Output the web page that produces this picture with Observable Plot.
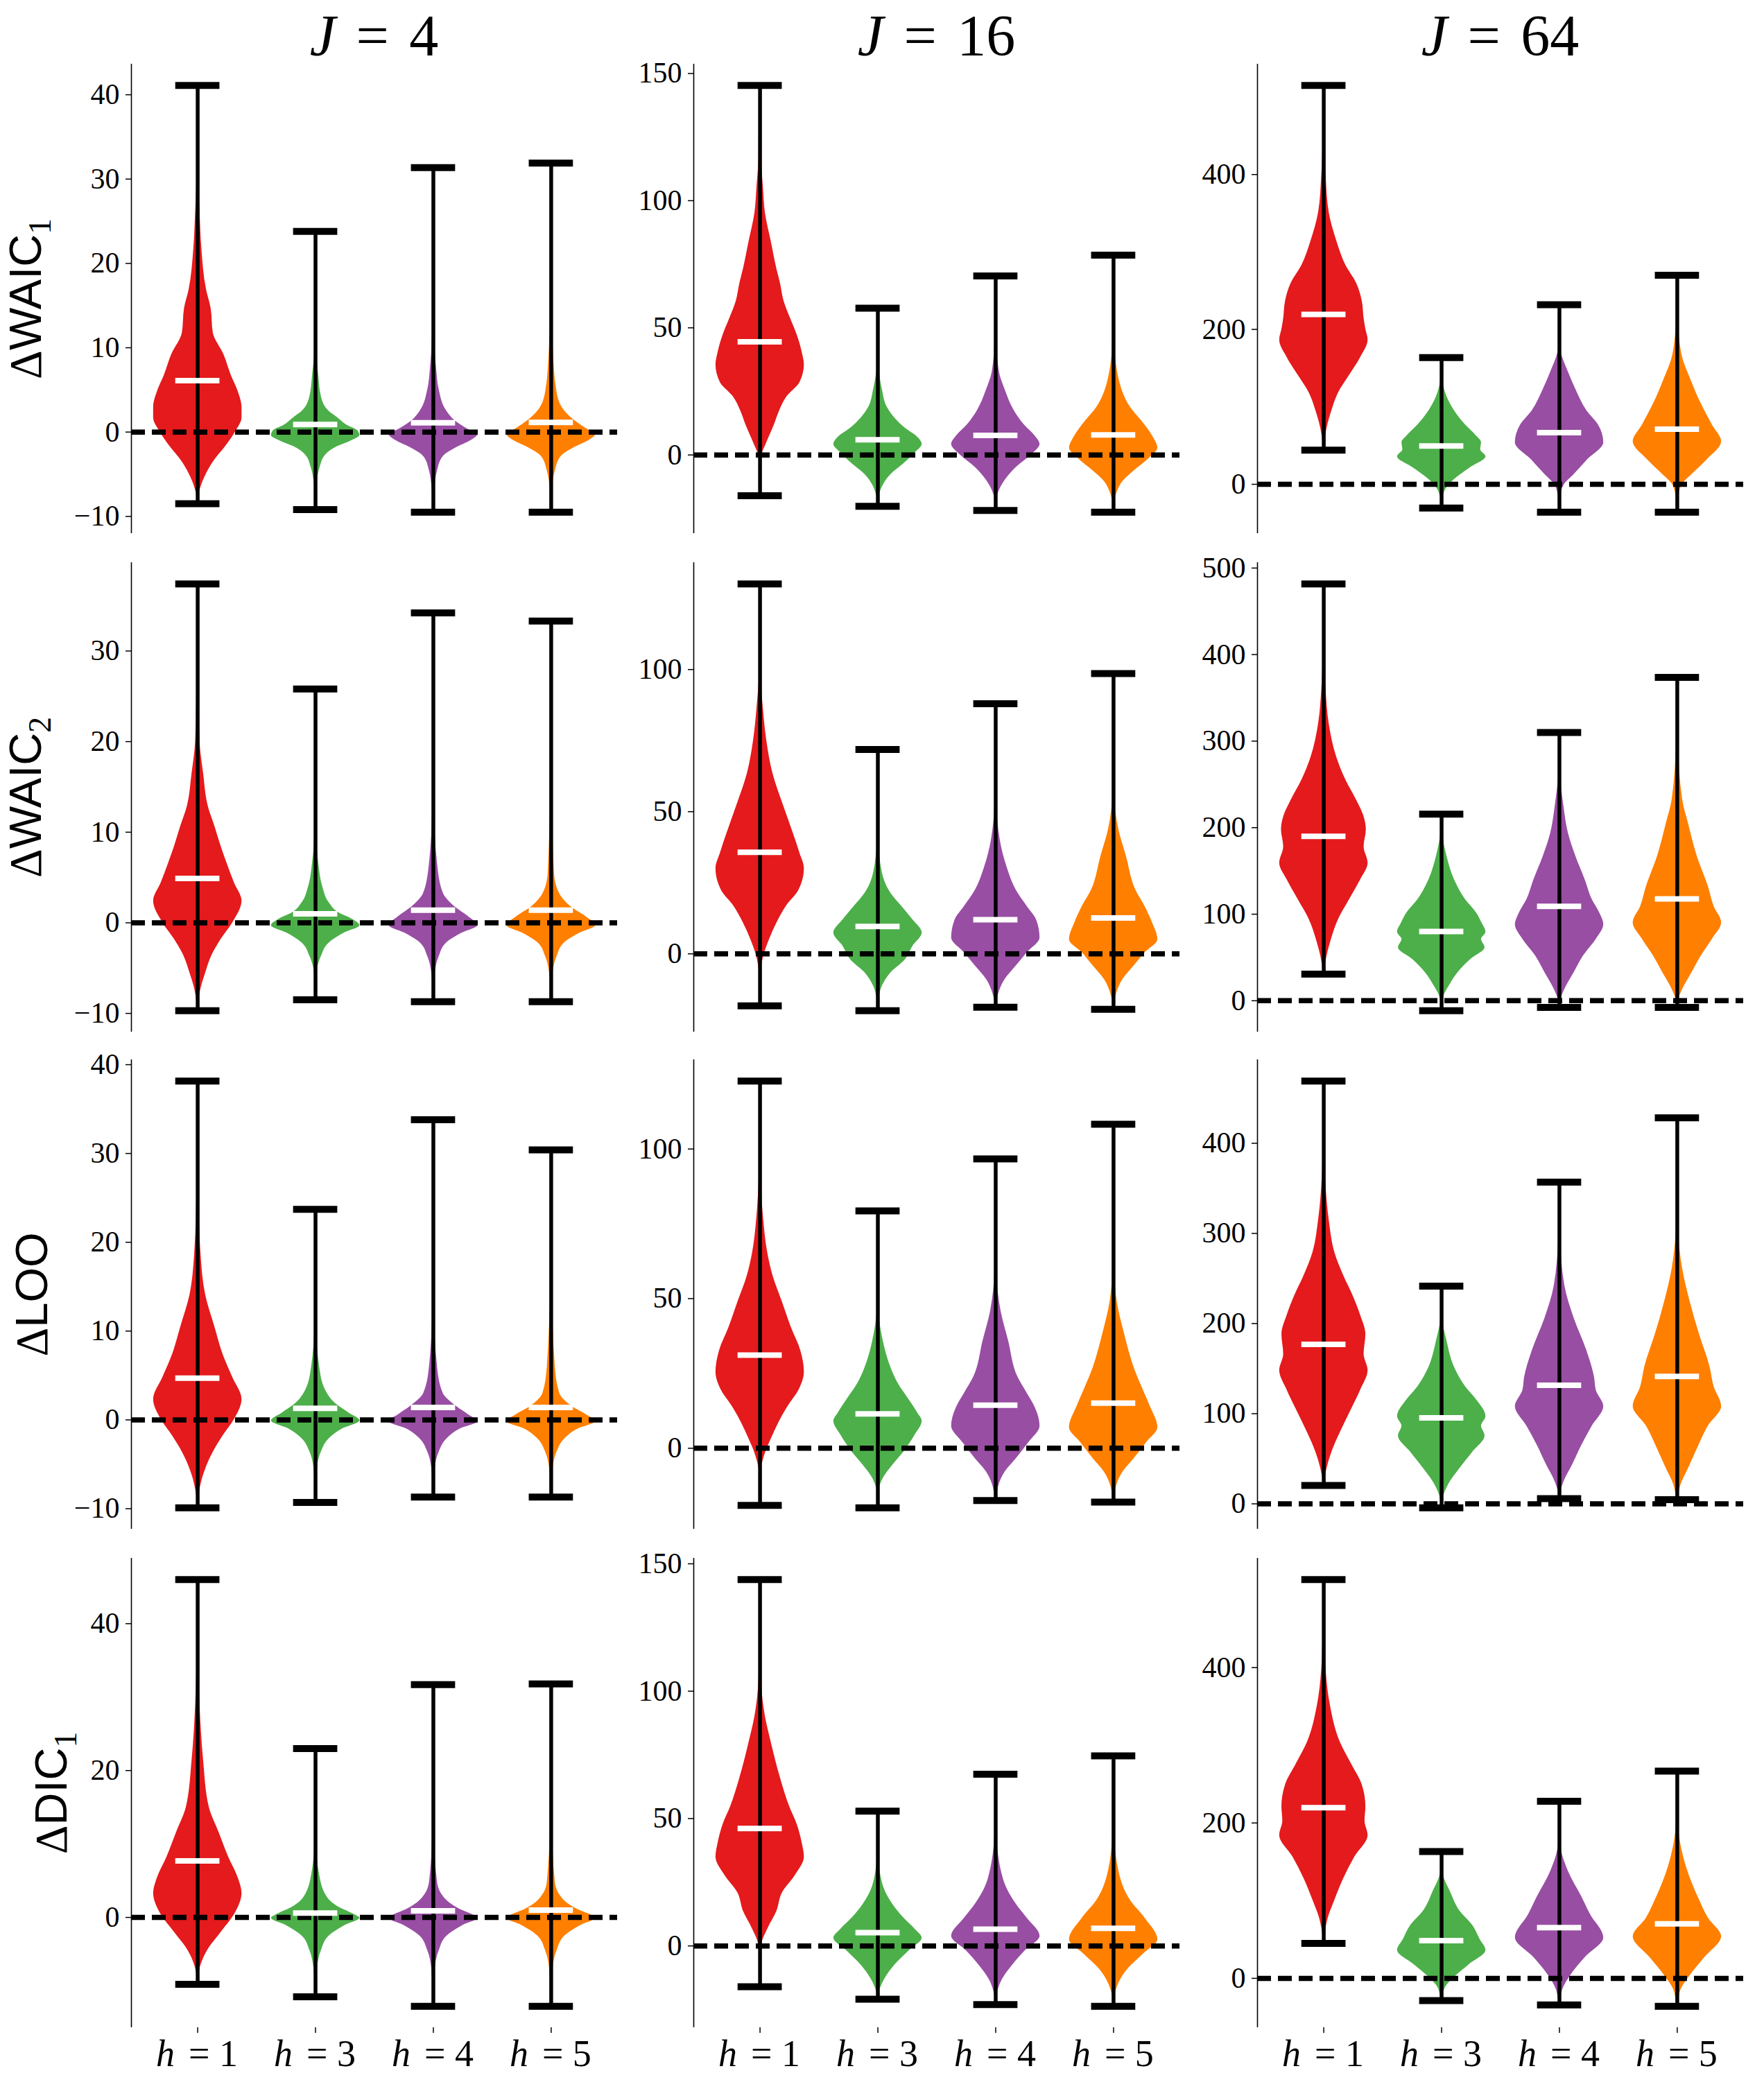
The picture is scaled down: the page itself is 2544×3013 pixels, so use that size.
<!DOCTYPE html>
<html><head><meta charset="utf-8">
<script src="https://cdn.jsdelivr.net/npm/d3@7"></script>
<script src="https://cdn.jsdelivr.net/npm/@observablehq/plot@0.6"></script>
<style>
body{margin:0;background:#fff;}
#fig{position:relative;width:2544px;height:3013px;background:#fff;overflow:hidden;}
.panel{position:absolute;}
.title{position:absolute;font-family:"Liberation Serif",serif;font-size:84px;white-space:nowrap;transform:translateX(-50%);line-height:1;word-spacing:0.1em;color:#000;}
.ylab{position:absolute;font-family:"Liberation Sans",sans-serif;font-size:65px;white-space:nowrap;transform:translate(-50%,-50%) rotate(-90deg);line-height:1;color:#000;}
.ylab .d{font-family:"Liberation Serif",serif;}
.ylab .s{font-family:"Liberation Serif",serif;font-size:0.7em;position:relative;top:0.3em;}
</style></head><body><div id="fig"></div>
<script>
// ---------------- data ----------------
const Js = [4, 16, 64];
const hValues = [1, 3, 4, 5];
const metricNames = ["WAIC", "WAIC", "LOO", "DIC"];
const metricSubs = ["1", "2", "", "1"];
const violinColors = ["#e41a1c", "#4daf4a", "#984ea3", "#ff7f00"];

const yTicks = [
  [[-10,0,10,20,30,40],[0,50,100,150],[0,200,400]],
  [[-10,0,10,20,30],[0,50,100],[0,100,200,300,400,500]],
  [[-10,0,10,20,30,40],[0,50,100],[0,100,200,300,400]],
  [[0,20,40],[0,50,100,150],[0,200,400]]
];

// [row][J][h]
const maxVals = [
  [[41.1,23.8,31.35,31.9],[145.3,57.7,70.4,78.6],[515,163.7,232,270]],
  [[37.4,25.8,34.2,33.3],[130.1,71.9,88,98.6],[481.6,215.7,310,373.6]],
  [[38.15,23.7,33.8,30.4],[122.7,79.3,96.7,108.3],[469,241.5,357,428.3]],
  [[46,23,31.7,31.8],[143.8,52.9,67.4,74.6],[513.3,163.2,228,266.8]]
];
const minVals = [
  [[-8.5,-9.2,-9.5,-9.5],[-16,-20.2,-21.8,-22.5],[44,-30.6,-36,-36]],
  [[-9.7,-8.5,-8.7,-8.7],[-18.3,-20,-18.8,-19.5],[30.7,-11.5,-7.7,-7.7]],
  [[-9.9,-9.3,-8.7,-8.7],[-19.1,-19.9,-17.5,-18],[20.3,-4.4,5.8,4.7]],
  [[-9.1,-10.8,-12.1,-12.1],[-16,-20.9,-23,-23.7],[44.9,-28.7,-34.2,-36]]
];
const meanVals = [
  [[6.1,0.9,1.1,1.15],[44.5,6.0,7.7,7.9],[219.4,49.4,66.7,71.3]],
  [[4.9,1.0,1.4,1.4],[35.7,9.6,12,12.6],[190,80,109,117.6]],
  [[4.7,1.3,1.4,1.4],[31.1,11.5,14.4,15.1],[177,95.4,131.6,141.4]],
  [[7.7,0.6,0.9,1.0],[46.1,5.2,6.6,6.9],[219.7,48.6,65.2,70.3]]
];

// violin outlines: [value, relative half-width]
const shapesWAIC1 = [
  [
    [[30.2,.02],[26,.05],[21.8,.09],[16.8,.2],[14.7,.3],[11.75,.35],[9.2,.59],[6.7,.76],[5,.9],[2.9,1],[1.7,1],[0,.85],[-1.7,.63],[-3.4,.37],[-5,.19],[-6.7,.06],[-7.6,.02]],
    [[10,.02],[6.7,.07],[4.2,.13],[2.5,.3],[1.7,.5],[0.8,.72],[0.2,.95],[-0.4,1],[-1.05,.8],[-1.7,.5],[-2.7,.23],[-4.2,.1],[-5.9,.035],[-7.6,.01]],
    [[12.6,.02],[7.5,.07],[5,.13],[2.5,.3],[1.3,.5],[0.4,.76],[-0.3,1],[-1,.85],[-1.9,.5],[-2.9,.22],[-4.6,.09],[-6.7,.03]],
    [[13.4,.02],[9.2,.05],[5,.12],[2.9,.25],[1.5,.5],[0.4,.8],[-0.3,1],[-1,.85],[-1.9,.5],[-2.9,.22],[-4.6,.09],[-7.1,.02]]
  ],
  [
    [[137,.02],[116,.03],[106,.07],[95,.12],[84,.25],[73,.38],[67.5,.46],[60.5,.54],[53.6,.69],[46.6,.85],[39.7,.96],[35.5,1],[28.5,.9],[23,.61],[17.4,.44],[11.8,.32],[4.9,.15],[-0.7,.03],[-6.3,.01]],
    [[35.5,.02],[25.7,.1],[18.8,.21],[14.6,.38],[10.4,.63],[7,.9],[4.2,1],[0.7,.83],[-3.5,.58],[-7.7,.29],[-11.8,.12],[-16,.03]],
    [[45,.02],[32.7,.08],[25.7,.21],[17.4,.42],[11.8,.65],[7.7,.88],[4.2,1],[0,.8],[-4.9,.46],[-9,.25],[-13.2,.1],[-17.4,.02]],
    [[45,.02],[30,.12],[18.8,.38],[11.8,.71],[6.3,.92],[2.8,1],[-1.4,.8],[-6.3,.46],[-10.4,.21],[-14.6,.08],[-18.8,.02]]
  ],
  [
    [[442,.02],[397,.05],[351,.12],[314.5,.29],[282.5,.5],[259.7,.74],[236,.87],[214,.91],[200,.95],[186.5,1],[163.7,.83],[140.8,.58],[118,.33],[95,.18],[72.2,.07],[54,.02]],
    [[136,.02],[113,.12],[95,.29],[76.8,.54],[63,.78],[54,.9],[44.8,.88],[35.7,1],[22,.66],[8.2,.33],[-5.5,.1],[-19,.02]],
    [[177,.02],[145,.2],[122.5,.37],[95,.62],[76.8,.88],[54,1],[31,.62],[12.8,.33],[-1,.1],[-14.6,.03]],
    [[214,.02],[168,.1],[131.7,.33],[104,.54],[76.8,.79],[55,1],[31,.66],[12.8,.33],[-1,.1],[-19,.02]]
  ]
];
const shapesWAIC2 = [
  [
    [[26.7,.02],[20,.05],[16.5,.13],[12.8,.24],[10.6,.39],[8.4,.53],[6.6,.66],[4.4,.83],[2.4,1],[0,.79],[-1.8,.53],[-3.7,.31],[-5.5,.18],[-7.3,.07],[-8.8,.02]],
    [[10.2,.02],[6.6,.07],[4,.16],[2.2,.31],[1.1,.53],[0.4,.83],[-0.3,1],[-1.1,.66],[-2.2,.31],[-3.7,.13],[-5.1,.04],[-7,.01]],
    [[12.8,.02],[6.6,.09],[3.3,.22],[1.8,.48],[0.7,.79],[-0.3,1],[-1.1,.66],[-2.2,.3],[-3.7,.13],[-5.5,.04]],
    [[14.6,.02],[5.5,.07],[3.3,.18],[1.8,.44],[0.7,.78],[-0.3,1],[-1.1,.66],[-2.2,.3],[-3.7,.13],[-5.5,.04]]
  ],
  [
    [[98,.02],[86.7,.07],[75,.15],[63.4,.29],[51.7,.54],[42.4,.75],[35.4,.9],[30,1],[22.5,.88],[16.7,.59],[10.9,.38],[5,.21],[-0.8,.08],[-6.7,.02]],
    [[40,.02],[28.4,.1],[21.4,.29],[16.7,.54],[12,.79],[7.4,1],[2.7,.79],[-2,.62],[-6.7,.29],[-11.3,.1],[-16,.02]],
    [[54,.02],[40,.1],[30.7,.25],[22.5,.46],[16.7,.71],[12,.92],[5.6,1],[0.4,.71],[-4.3,.46],[-9,.21],[-13.7,.07],[-17,.02]],
    [[56.4,.02],[43.5,.12],[34.2,.29],[22.5,.5],[16.7,.71],[10.9,.88],[5,1],[0.4,.71],[-4.3,.46],[-9,.21],[-13.7,.07],[-17,.02]]
  ],
  [
    [[396.5,.02],[358,.05],[320,.12],[281.6,.29],[254.8,.5],[231.8,.74],[212.6,.91],[197.3,.96],[178,.91],[159,1],[139.8,.83],[116.9,.58],[93.9,.33],[70.9,.17],[51.7,.07],[36.4,.02]],
    [[193.5,.02],[166.7,.12],[139.8,.29],[116.9,.54],[101.5,.79],[90,.91],[79.3,1],[71,.9],[61.3,.98],[47.9,.66],[32.6,.37],[17.2,.17],[5.7,.05],[-3.8,.01]],
    [[262.5,.02],[224,.1],[193.5,.2],[166.7,.37],[139.8,.58],[116.9,.74],[101.5,.91],[88,1],[71,.83],[51.7,.54],[32.6,.33],[13.4,.12],[0,.02]],
    [[300.8,.02],[231.8,.12],[205,.25],[166.7,.45],[132,.7],[109,.83],[90,1],[71,.79],[51.7,.54],[32.6,.33],[13.4,.12],[0,.02]]
  ]
];
const shapesLOO = [
  [
    [[26.2,.02],[18.8,.07],[14,.18],[10.4,.39],[7.4,.57],[4.8,.79],[2.3,1],[0.07,.83],[-1.8,.57],[-4,.31],[-6.2,.13],[-8.4,.03]],
    [[10.7,.02],[6,.09],[3.4,.22],[1.9,.44],[0.8,.75],[-0.1,1],[-1,.61],[-2.1,.31],[-3.6,.13],[-5.4,.04]],
    [[12.6,.02],[6,.09],[3,.22],[1.5,.53],[0.6,.79],[-0.2,1],[-1,.61],[-2.1,.31],[-3.6,.13],[-5.4,.04]],
    [[15.2,.02],[6,.09],[3,.19],[1.5,.48],[0.6,.79],[-0.2,1],[-1,.61],[-2.1,.31],[-3.6,.13],[-5.4,.04]]
  ],
  [
    [[92.7,.02],[76.3,.08],[65.4,.17],[57.7,.29],[49,.5],[40.2,.71],[32.6,.92],[25.5,1],[19.5,.88],[14,.63],[8.5,.42],[3.1,.25],[-2.4,.1],[-7.9,.02]],
    [[46.8,.02],[35.8,.12],[27.1,.29],[21.6,.46],[16.1,.71],[11.8,.9],[9.1,1],[4.2,.83],[-1.3,.58],[-5.7,.33],[-10,.12],[-14.4,.02]],
    [[59.9,.02],[45.7,.12],[35.8,.29],[23.8,.5],[18.4,.71],[14,.88],[7.4,1],[2,.75],[-3.5,.46],[-7.9,.21],[-12.3,.07],[-16,.02]],
    [[59.9,.02],[49,.08],[38,.25],[27.1,.46],[19.5,.67],[14,.83],[6.9,1],[2,.75],[-3.5,.46],[-7.9,.21],[-12.3,.07],[-16,.02]]
  ],
  [
    [[387,.02],[351,.05],[315,.12],[278.5,.25],[253,.45],[231,.66],[209.5,.83],[188,.95],[166,.91],[148,1],[126,.83],[104.4,.62],[79,.37],[57.3,.18],[39.2,.07],[26.5,.02]],
    [[206,.02],[180.6,.12],[151.6,.29],[130,.54],[115.3,.79],[97,1],[86.3,.9],[75.4,.98],[57.3,.7],[39.2,.41],[21,.15],[6.5,.03]],
    [[296.6,.02],[242,.12],[206,.33],[169.7,.62],[140.7,.79],[126,.83],[108,1],[86.3,.74],[64.6,.5],[42.8,.29],[24.7,.1],[12,.02]],
    [[315,.02],[260.4,.12],[224,.29],[188,.5],[151.6,.74],[130,.83],[108,1],[86.3,.7],[61,.45],[39.2,.25],[21,.08],[8.3,.02]]
  ]
];
const shapesDIC1 = [
  [
    [[34.6,.02],[28.8,.05],[21.4,.13],[15,.26],[11.6,.48],[8.2,.7],[5.3,.92],[3.3,1],[0.4,.83],[-2,.53],[-4.5,.22],[-6.5,.07],[-7.9,.02]],
    [[10.2,.02],[5.8,.09],[2.8,.26],[1.4,.53],[0.4,.88],[-0.1,1],[-1.1,.66],[-2.5,.31],[-4.5,.13],[-6.9,.04]],
    [[11.6,.02],[4.8,.09],[2.3,.31],[1.1,.61],[0.4,.88],[-0.1,1],[-1.1,.66],[-2.5,.31],[-4.5,.13],[-6.9,.04]],
    [[13.1,.02],[4.8,.09],[2.3,.3],[1.1,.6],[0.4,.88],[-0.1,1],[-1.1,.66],[-2.5,.31],[-4.5,.13],[-6.9,.04]]
  ],
  [
    [[111,.02],[101,.04],[90,.12],[80,.25],[65.9,.46],[54.6,.67],[47.6,.84],[40.5,.95],[34.9,1],[27.8,.8],[20.7,.5],[13.7,.38],[6.6,.17],[1,.04],[-4.7,.01]],
    [[34.9,.02],[23.6,.12],[16.5,.33],[10.9,.59],[6.6,.84],[3.1,1],[-1.8,.71],[-7.5,.38],[-13.1,.15],[-18,.03]],
    [[44.7,.02],[26.4,.17],[16.5,.46],[10.9,.71],[3.8,1],[-1.8,.67],[-7.5,.38],[-13.1,.15],[-18.8,.03]],
    [[44.7,.02],[29.2,.12],[17.9,.38],[10.9,.71],[2.4,1],[-3.2,.67],[-8.9,.33],[-14.5,.12],[-20.2,.02]]
  ],
  [
    [[443,.02],[396.8,.05],[350.5,.15],[304.3,.37],[276.5,.62],[248.8,.87],[221,.95],[202.5,.93],[184,1],[156.3,.7],[128.6,.45],[100.9,.25],[77.9,.1],[54.6,.02]],
    [[137.8,.02],[110,.21],[87,.41],[68.4,.7],[50,.87],[36,1],[17.6,.62],[3.7,.33],[-10.2,.1],[-24,.02]],
    [[174.8,.02],[137.8,.2],[105.4,.5],[82.3,.7],[52.3,1],[26.8,.58],[3.7,.25],[-14.8,.07],[-28.7,.02]],
    [[202.5,.02],[142.4,.21],[100.9,.5],[77.7,.7],[53.6,1],[26.8,.62],[3.7,.29],[-14.8,.08],[-31,.02]]
  ]
];
const shapes = [shapesWAIC1, shapesWAIC2, shapesLOO, shapesDIC1];

// ---------------- layout ----------------
const plotLeft = [189, 1000, 1813];
const plotTop = [92, 811, 1528, 2247];
const plotW = 701, plotH = 677;
const VW = 0.75;                      // violin width in position units
const xDomain = [0.4375, 4.5625];
const fmt = d => d < 0 ? "\u2212" + (-d) : String(d);
const serif = "'Liberation Serif', 'DejaVu Serif', serif";

const fig = document.getElementById("fig");

for (let r = 0; r < 4; r++) {
  for (let c = 0; c < 3; c++) {
    const rows = hValues.map((h, i) => ({
      i, h, pos: i + 1,
      min: minVals[r][c][i], max: maxVals[r][c][i], mean: meanVals[r][c][i],
      color: violinColors[i]
    }));
    const lo = d3.min(rows, d => d.min), hi = d3.max(rows, d => d.max);
    const pad = 0.05 * (hi - lo);
    const isBottom = r === 3;
    const ml = 150, mr = 20, mt = 20, mb = isBottom ? 80 : 20;

    const violinMarks = rows.map(d => {
      const pts = shapes[r][c][d.i].map(([v, w]) => ({v, w}))
        .concat([{v: d.min, w: 0}, {v: d.max, w: 0}])
        .sort((a, b) => a.v - b.v);
      return Plot.areaX(pts, {
        y: "v",
        x1: p => d.pos - VW / 2 * p.w,
        x2: p => d.pos + VW / 2 * p.w,
        fill: d.color,
        curve: "monotone-y"
      });
    });

    const capOpts = {x1: d => d.pos - VW / 4, x2: d => d.pos + VW / 4};
    const marks = [
      ...violinMarks,
      Plot.ruleY([0], {stroke: "black", strokeWidth: 7.5, strokeDasharray: "20,10"}),
      Plot.ruleX(rows, {x: "pos", y1: "min", y2: "max", stroke: "black", strokeWidth: 5.5}),
      Plot.ruleY(rows, {y: "max", ...capOpts, stroke: "black", strokeWidth: 10}),
      Plot.ruleY(rows, {y: "min", ...capOpts, stroke: "black", strokeWidth: 10}),
      Plot.ruleY(rows, {y: "mean", ...capOpts, stroke: "white", strokeWidth: 8}),
      Plot.ruleX([xDomain[0]], {stroke: "black", strokeWidth: 1.6}),
      Plot.axisY({ticks: yTicks[r][c], tickSize: 8, tickPadding: 9, tickFormat: fmt,
                  fontSize: 42, fontFamily: serif, strokeWidth: 1.5, label: null})
    ];
    if (isBottom) {
      marks.push(
        Plot.axisX({ticks: [1, 2, 3, 4], tickSize: 8, tickFormat: () => "", strokeWidth: 1.5, label: null}),
        Plot.text(rows, {x: "pos", text: () => "h", frameAnchor: "bottom", lineAnchor: "middle", dy: 38, dx: -33,
                         textAnchor: "end", fontStyle: "italic", fontSize: 54, fontFamily: serif}),
        Plot.text(rows, {x: "pos", text: d => "= " + d.h, frameAnchor: "bottom", lineAnchor: "middle", dy: 38, dx: -13,
                         textAnchor: "start", fontSize: 54, fontFamily: serif})
      );
    }

    const chart = Plot.plot({
      width: ml + plotW + mr,
      height: mt + plotH + mb,
      marginLeft: ml, marginRight: mr, marginTop: mt, marginBottom: mb,
      style: "background: transparent; font-family: 'Liberation Serif', serif; font-size: 42px; color: black; overflow: visible;",
      x: isBottom ? {domain: xDomain, label: null} : {domain: xDomain, axis: null},
      y: {domain: [lo - pad, hi + pad], label: null},
      marks
    });
    chart.classList.add("panel");
    chart.style.left = (plotLeft[c] - ml) + "px";
    chart.style.top = (plotTop[r] - mt) + "px";
    chart.style.position = "absolute";
    fig.appendChild(chart);
  }
}

// column titles
Js.forEach((J, c) => {
  const t = document.createElement("div");
  t.className = "title";
  t.innerHTML = "<i>J</i> = " + J;
  t.style.left = (plotLeft[c] + plotW / 2) + "px";
  t.style.top = "10px";
  fig.appendChild(t);
});

// row labels
const ylabX = [37, 36.5, 46, 74];
metricNames.forEach((m, r) => {
  const t = document.createElement("div");
  t.className = "ylab";
  t.innerHTML = '<span class="d">\u0394</span>' + m + (metricSubs[r] ? '<span class="s">' + metricSubs[r] + '</span>' : "");
  t.style.left = ylabX[r] + "px";
  t.style.top = (plotTop[r] + plotH / 2) + "px";
  fig.appendChild(t);
});
</script></body></html>
